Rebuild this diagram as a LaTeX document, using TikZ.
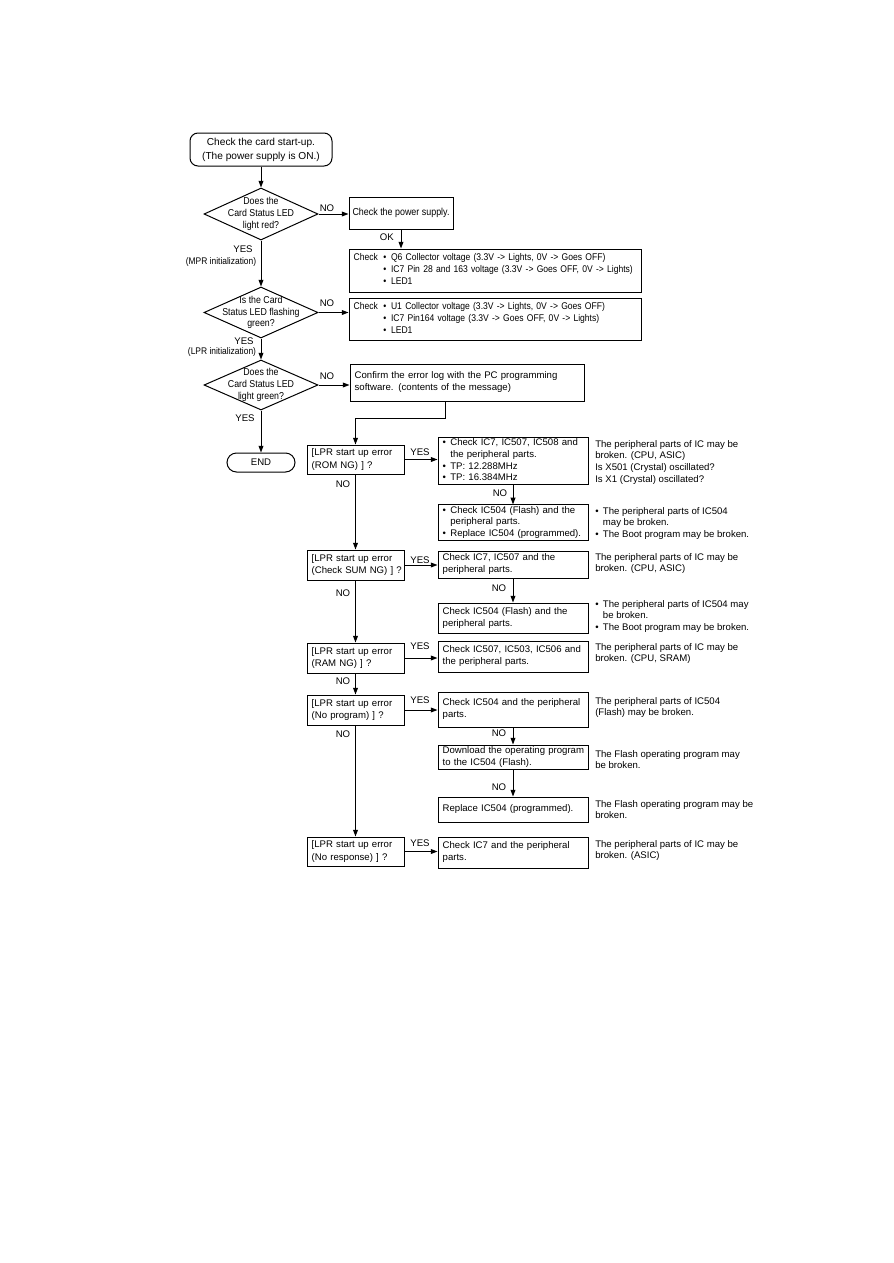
\documentclass[tikz,border=0pt]{standalone}
\usepackage{fontspec}
\setmainfont{Liberation Sans}
\newfontfamily\cond[FakeStretch=0.88]{Liberation Sans}
\usetikzlibrary{arrows.meta,shapes.geometric,shapes.misc,calc}
\newcommand\bu{\makebox[0.8em][l]{•}}
\newcommand\bi{\hspace*{0.8em}}
\newcommand\tl[1]{\begin{tabular}{@{}l@{}}#1\end{tabular}}
\begin{document}
\begin{tikzpicture}[x=0.75pt,y=-0.75pt,
  every node/.style={font=\fontsize{7.2}{8.8}\selectfont},
  sz/.style 2 args={minimum width={#1*0.75pt},minimum height={#2*0.75pt}},
  lbox/.style 2 args={draw,line width=0.75pt,align=left,text width={#1*0.75pt-7pt},inner xsep=3.5pt,inner ysep=0pt,minimum height={#2*0.75pt}},
  dia/.style={diamond,draw,line width=0.75pt,inner sep=0pt,sz={114}{52}},
  dtext/.style={align=center,font=\cond\fontsize{7.5}{8.8}\selectfont},
  note/.style={anchor=north west,align=left,inner sep=0pt},
  lab/.style={inner sep=0pt},
  arr/.style={-{Triangle[length=5pt,width=3.6pt]},line width=0.75pt}]
\useasboundingbox (0,0) rectangle (893,1263);

% start
\node[draw,line width=0.75pt,rounded corners=6pt,sz={142}{33},align=center,font=\fontsize{7.6}{10.5}\selectfont] (start) at (261,149.5) {Check the card start-up.\\(The power supply is ON.)};

% diamonds
\node[dia,label={[dtext]center:Does the\\Card Status LED\\light red?}] (d1) at (261,214) {};
\node[dia,sz={114}{51},label={[dtext]center:Is the Card\\Status LED flashing\\green?}] (d2) at (261,312.5) {};
\node[dia,sz={114}{50},label={[dtext]center:Does the\\Card Status LED\\light green?}] (d3) at (261,385) {};
\node[draw,line width=0.75pt,rounded rectangle,sz={68}{19},inner sep=0pt] (end) at (261,462.5) {END};

% right upper boxes
\node[draw,line width=0.75pt,sz={104}{32},inner sep=0pt,font=\cond\fontsize{7.6}{9}\selectfont] (ps) at (401,213) {Check the power supply.};
\node[lbox={292}{43},font=\cond\fontsize{7.3}{9}\selectfont] (c1) at (495,270.5) {\begin{tabular}{@{}l@{\hspace{4pt}}l@{}}Check & \bu Q6 Collector voltage (3.3V -> Lights, 0V -> Goes OFF)\\ & \bu IC7 Pin 28 and 163 voltage (3.3V -> Goes OFF, 0V -> Lights)\\ & \bu LED1\end{tabular}};
\node[lbox={292}{42},font=\cond\fontsize{7.3}{9}\selectfont] (c2) at (495,319) {\begin{tabular}{@{}l@{\hspace{4pt}}l@{}}Check & \bu U1 Collector voltage (3.3V -> Lights, 0V -> Goes OFF)\\ & \bu IC7 Pin164 voltage (3.3V -> Goes OFF, 0V -> Lights)\\ & \bu LED1\end{tabular}};
\node[lbox={234}{37},font=\fontsize{7.2}{9}\selectfont] (confirm) at (467,382.5) {\tl{Confirm the error log with the PC programming\\software. (contents of the message)}};

% left error boxes
\node[lbox={97}{29},font=\fontsize{7.2}{9.5}\selectfont] (rom) at (355.5,459.5) {\tl{[LPR start up error\\(ROM NG) ] ?}};
\node[lbox={97}{30},font=\fontsize{7.2}{9.5}\selectfont] (sum) at (355.5,565) {\tl{[LPR start up error\\(Check SUM NG) ] ?}};
\node[lbox={97}{30},font=\fontsize{7.2}{9.5}\selectfont] (ram) at (355.5,658) {\tl{[LPR start up error\\(RAM NG) ] ?}};
\node[lbox={97}{30},font=\fontsize{7.2}{9.5}\selectfont] (nop) at (355.5,710) {\tl{[LPR start up error\\(No program) ] ?}};
\node[lbox={97}{29},font=\fontsize{7.2}{9.5}\selectfont] (nor) at (355.5,851.5) {\tl{[LPR start up error\\(No response) ] ?}};

% middle check boxes
\node[lbox={150}{44}] (romchk) at (513,461) {\tl{\bu Check IC7, IC507, IC508 and\\\bi the peripheral parts.\\\bu TP: 12.288MHz\\\bu TP: 16.384MHz}};
\node[lbox={150}{35}] (romfl) at (513,522.5) {\tl{\bu Check IC504 (Flash) and the\\\bi peripheral parts.\\\bu Replace IC504 (programmed).}};
\node[lbox={150}{27}] (sumchk) at (513,564.5) {\tl{Check IC7, IC507 and the\\peripheral parts.}};
\node[lbox={150}{30}] (sumfl) at (513,618) {\tl{Check IC504 (Flash) and the\\peripheral parts.}};
\node[lbox={150}{31}] (ramchk) at (513,656.5) {\tl{Check IC507, IC503, IC506 and\\the peripheral parts.}};
\node[lbox={150}{35}] (nopchk) at (513,709.5) {\tl{Check IC504 and the peripheral\\parts.}};
\node[lbox={150}{24}] (dl) at (513,757) {\tl{Download the operating program\\to the IC504 (Flash).}};
\node[lbox={150}{25}] (rep) at (513,809.5) {\tl{Replace IC504 (programmed).}};
\node[lbox={150}{31}] (norchk) at (513,852.5) {\tl{Check IC7 and the peripheral\\parts.}};

% notes
\node[note] (n1) at (595,440) {The peripheral parts of IC may be\\broken. (CPU, ASIC)\\Is X501 (Crystal) oscillated?\\Is X1 (Crystal) oscillated?};
\node[note] (n2) at (595,507) {\bu The peripheral parts of IC504\\\bi may be broken.\\\bu The Boot program may be broken.};
\node[note] (n3) at (595,553) {The peripheral parts of IC may be\\broken. (CPU, ASIC)};
\node[note] (n4) at (595,600) {\bu The peripheral parts of IC504 may\\\bi be broken.\\\bu The Boot program may be broken.};
\node[note] (n5) at (595,643) {The peripheral parts of IC may be\\broken. (CPU, SRAM)};
\node[note] (n6) at (595,697) {The peripheral parts of IC504\\(Flash) may be broken.};
\node[note] (n7) at (595,750) {The Flash operating program may\\be broken.};
\node[note] (n8) at (595,800) {The Flash operating program may be\\broken.};
\node[note] (n9) at (595,840) {The peripheral parts of IC may be\\broken. (ASIC)};

% connectors
\draw[arr] (start) -- (d1);
\draw[arr] (d1.east) -- (ps.west |- d1.east);
\draw[arr] (ps.south) -- (ps.south |- c1.north);
\draw[arr] (d1.south) -- (d2.north);
\draw[arr] (d2.east) -- (c2.west |- d2.east);
\draw[arr] (d2.south) -- (d3.north);
\draw[arr] (d3.east) -- (confirm.west |- d3.east);
\draw[arr] (d3.south) -- (end.north);
\draw[arr] ([xshift=-16.5pt]confirm.south) -- ++(0,17) -| (rom.north);

\draw[arr] (rom.east) -- (romchk.west |- rom.east);
\draw[arr] (romchk.south) -- (romfl.north);
\draw[arr] (rom.south) -- (sum.north);
\draw[arr] (sum.east) -- (sumchk.west |- sum.east);
\draw[arr] (sumchk.south) -- (sumfl.north);
\draw[arr] (sum.south) -- (ram.north);
\draw[arr] (ram.east) -- (ramchk.west |- ram.east);
\draw[arr] (ram.south) -- (nop.north);
\draw[arr] (nop.east) -- (nopchk.west |- nop.east);
\draw[arr] (nopchk.south) -- (dl.north);
\draw[arr] (dl.south) -- (rep.north);
\draw[arr] (nop.south) -- (nor.north);
\draw[arr] (nor.east) -- (norchk.west |- nor.east);

% labels
\node[lab] (l1) at (327,208) {NO};
\node[lab,anchor=east] (l2) at (394,237) {OK};
\node[lab] (l3) at (243,249) {YES};
\node[lab,font=\cond\fontsize{7.2}{8.8}\selectfont] (l4) at (221,262) {(MPR initialization)};
\node[lab] (l5) at (327,303) {NO};
\node[lab] (l6) at (244,341) {YES};
\node[lab,font=\cond\fontsize{7.2}{8.8}\selectfont] (l7) at (222,352) {(LPR initialization)};
\node[lab] (l8) at (327,376) {NO};
\node[lab] (l9) at (245,418) {YES};
\node[lab] (l10) at (420,452) {YES};
\node[lab] (l11) at (343,484) {NO};
\node[lab] (l12) at (500,493) {NO};
\node[lab] (l13) at (420,560) {YES};
\node[lab] (l14) at (343,593) {NO};
\node[lab] (l15) at (499,588) {NO};
\node[lab] (l16) at (420,646) {YES};
\node[lab] (l17) at (343,681) {NO};
\node[lab] (l18) at (420,700) {YES};
\node[lab] (l19) at (343,734) {NO};
\node[lab] (l20) at (499,733) {NO};
\node[lab] (l21) at (499,787) {NO};
\node[lab] (l22) at (420,843) {YES};
\end{tikzpicture}
\end{document}
